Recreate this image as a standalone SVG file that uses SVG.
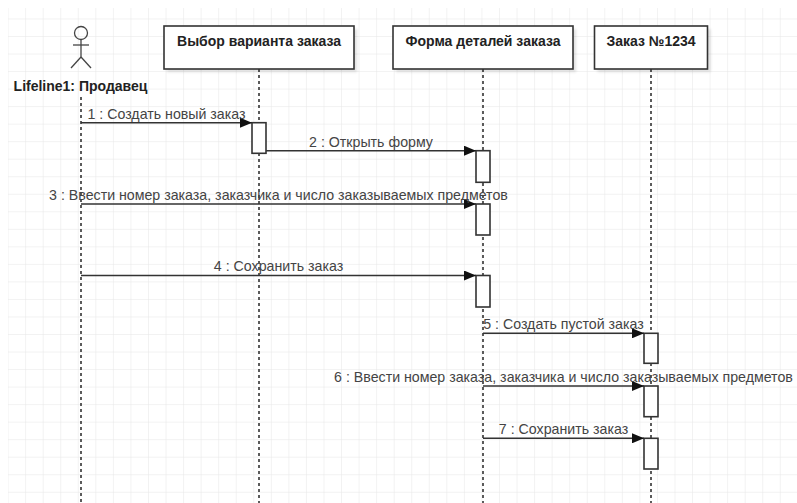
<svg xmlns="http://www.w3.org/2000/svg" width="797" height="503" viewBox="0 0 797 503">
<defs>
<pattern id="grid" x="7.6" y="0.94" width="17.55" height="17.53" patternUnits="userSpaceOnUse">
<path d="M0 0V17.53M0 0H17.55" fill="none" stroke="#e6e6e6" stroke-width="1"/>
</pattern>
<marker id="arr" viewBox="0 0 12 10" refX="12" refY="5" markerWidth="12" markerHeight="10" markerUnits="userSpaceOnUse" orient="auto">
<path d="M0 0L12 5L0 10z" fill="#111"/>
</marker>
<filter id="sh" x="-10%" y="-10%" width="130%" height="140%">
<feGaussianBlur stdDeviation="1.5"/>
</filter>
</defs>
<style>
.box{fill:#fff;stroke:#333;stroke-width:1.6}
.shadow{fill:#000;opacity:0.12}
.act{fill:#fff;stroke:#333;stroke-width:1.6}
.life{fill:none;stroke:#333;stroke-width:1.6;stroke-dasharray:3 3}
.msg{fill:none;stroke:#333;stroke-width:1.6;marker-end:url(#arr)}
.hdr{font-family:"Liberation Sans",Arial,sans-serif;font-size:14px;font-weight:bold;fill:#222;text-anchor:middle}
.lbl{font-family:"Liberation Sans",Arial,sans-serif;font-size:14.2px;fill:#444;text-anchor:middle}
.actor{fill:none;stroke:#444;stroke-width:1.3}
</style>
<rect x="0" y="0" width="797" height="503" fill="#fff"/>
<rect x="8" y="8" width="789" height="495" fill="url(#grid)"/>

<g id="lifelines">
<line class="life" x1="81" y1="97" x2="81" y2="503"/>
<line class="life" x1="259" y1="69" x2="259" y2="503"/>
<line class="life" x1="483" y1="69" x2="483" y2="503"/>
<line class="life" x1="651" y1="69" x2="651" y2="503"/>
</g>

<g id="actor">
<circle class="actor" cx="81" cy="33" r="6.5"/>
<line class="actor" x1="81" y1="39.5" x2="81" y2="57"/>
<line class="actor" x1="73" y1="45" x2="89" y2="45"/>
<line class="actor" x1="81" y1="57" x2="71" y2="68"/>
<line class="actor" x1="81" y1="57" x2="91" y2="68"/>
<text class="hdr" x="80.5" y="90.5">Lifeline1: Продавец</text>
</g>

<g id="box1">
<rect class="shadow" x="167" y="29" width="190" height="43" filter="url(#sh)"/>
<rect class="box" x="164" y="26" width="190" height="43"/>
<text class="hdr" x="259" y="46">Выбор варианта заказа</text>
</g>
<g id="box2">
<rect class="shadow" x="396" y="29" width="180" height="43" filter="url(#sh)"/>
<rect class="box" x="393" y="26" width="180" height="43"/>
<text class="hdr" x="483" y="46">Форма деталей заказа</text>
</g>
<g id="box3">
<rect class="shadow" x="597.5" y="29" width="113" height="43" filter="url(#sh)"/>
<rect class="box" x="594.5" y="26" width="113" height="43"/>
<text class="hdr" x="651" y="46">Заказ №1234</text>
</g>

<g id="activations">
<rect class="act" x="252" y="122.7" width="14" height="30.6"/>
<rect class="act" x="476" y="150.7" width="14" height="31.6"/>
<rect class="act" x="476" y="204" width="14" height="31"/>
<rect class="act" x="476" y="275.5" width="14" height="31.5"/>
<rect class="act" x="644" y="333.3" width="14" height="30"/>
<rect class="act" x="644" y="386" width="14" height="30.7"/>
<rect class="act" x="644" y="438.3" width="14" height="30.7"/>
</g>

<g id="connectors">
<line class="msg" x1="81" y1="122.7" x2="252" y2="122.7"/>
<text class="lbl" x="166.5" y="118.5">1 : Создать новый заказ</text>
<line class="msg" x1="266" y1="150.7" x2="476" y2="150.7"/>
<text class="lbl" x="371" y="146.5">2 : Открыть форму</text>
<line class="msg" x1="81" y1="204" x2="476" y2="204"/>
<text class="lbl" x="278.5" y="199.7">3 : Ввести номер заказа, заказчика и число заказываемых предметов</text>
<line class="msg" x1="81" y1="275.5" x2="476" y2="275.5"/>
<text class="lbl" x="278.5" y="271">4 : Сохранить заказ</text>
<line class="msg" x1="483" y1="333.3" x2="644" y2="333.3"/>
<text class="lbl" x="563.5" y="328.8">5 : Создать пустой заказ</text>
<line class="msg" x1="483" y1="386" x2="644" y2="386"/>
<text class="lbl" x="563.5" y="381.5">6 : Ввести номер заказа, заказчика и число заказываемых предметов</text>
<line class="msg" x1="483" y1="438.3" x2="644" y2="438.3"/>
<text class="lbl" x="563.5" y="433.8">7 : Сохранить заказ</text>
</g>
</svg>
